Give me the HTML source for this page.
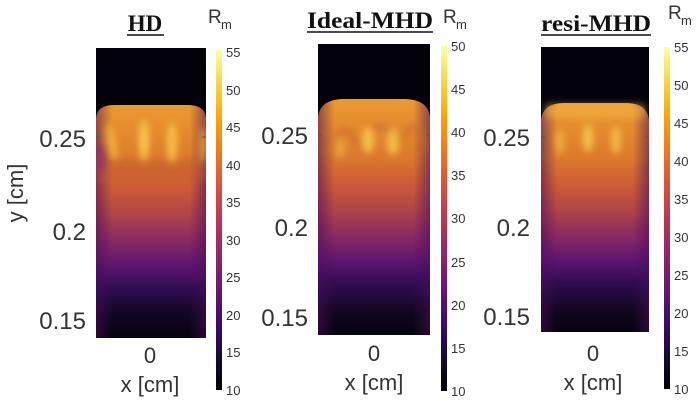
<!DOCTYPE html>
<html><head><meta charset="utf-8"><style>
html,body{margin:0;padding:0;background:#fff;}
svg{display:block;}
.t{font-family:"Liberation Sans",sans-serif;fill:#333;}
.ti{font-family:"Liberation Serif",serif;font-weight:bold;fill:#111;font-size:23px;}
</style></head><body>
<svg width="700" height="401" viewBox="0 0 700 401" xmlns="http://www.w3.org/2000/svg">
<defs>
<linearGradient id="inf" x1="0" y1="1" x2="0" y2="0">
<stop offset="0" stop-color="#000004"/><stop offset="0.1" stop-color="#160b39"/>
<stop offset="0.2" stop-color="#420a68"/><stop offset="0.3" stop-color="#6a176e"/>
<stop offset="0.4" stop-color="#932667"/><stop offset="0.5" stop-color="#bc3754"/>
<stop offset="0.6" stop-color="#dd513a"/><stop offset="0.7" stop-color="#f37819"/>
<stop offset="0.8" stop-color="#fca50a"/><stop offset="0.9" stop-color="#f6d746"/>
<stop offset="1" stop-color="#fcffa4"/>
</linearGradient>
<linearGradient id="body" x1="0" y1="0" x2="0" y2="1">
<stop offset="0" stop-color="#eb9a35"/><stop offset="0.06" stop-color="#e8922f"/>
<stop offset="0.24" stop-color="#dc7a2c"/><stop offset="0.36" stop-color="#cc5c36"/>
<stop offset="0.47" stop-color="#b04448"/><stop offset="0.58" stop-color="#8a2a62"/>
<stop offset="0.69" stop-color="#5c1670"/><stop offset="0.79" stop-color="#2e0c50"/>
<stop offset="0.9" stop-color="#120620"/><stop offset="1" stop-color="#050310"/>
</linearGradient>
<linearGradient id="edge" x1="0" y1="0" x2="1" y2="0">
<stop offset="0" stop-color="#4a0c5a" stop-opacity="0.55"/><stop offset="0.15" stop-color="#4a0c5a" stop-opacity="0"/>
<stop offset="0.85" stop-color="#4a0c5a" stop-opacity="0"/><stop offset="1" stop-color="#4a0c5a" stop-opacity="0.55"/>
</linearGradient>
<filter id="b3" x="-50%" y="-50%" width="200%" height="200%"><feGaussianBlur stdDeviation="3.5"/></filter>
<clipPath id="c1"><rect x="96" y="48" width="110" height="290"/></clipPath>
<clipPath id="c2"><rect x="318" y="44" width="112" height="291"/></clipPath>
<clipPath id="c3"><rect x="541" y="47" width="108" height="285"/></clipPath>
</defs>

<!-- Panel 1 -->
<g clip-path="url(#c1)">
<rect x="96" y="48" width="110" height="290" fill="#03020a"/>
<path d="M96,338 L96,120 Q96,105 114,105 L188,105 Q206,105 206,120 L206,338 Z" fill="url(#body)"/>
<path d="M96,338 L96,120 Q96,105 114,105 L188,105 Q206,105 206,120 L206,338 Z" fill="url(#edge)"/>
<g filter="url(#b3)">
<rect x="98" y="158" width="108" height="22" fill="#c2582f" opacity="0.45"/>
<ellipse cx="112" cy="142" rx="4" ry="18" fill="#f2b040" transform="rotate(-12 112 142)"/>
<ellipse cx="144" cy="140" rx="5" ry="20" fill="#f7c84a"/>
<ellipse cx="172" cy="142" rx="5" ry="20" fill="#f4bf45"/>
<ellipse cx="203" cy="145" rx="3" ry="18" fill="#eea23a"/>
<ellipse cx="99" cy="160" rx="7" ry="16" fill="#8a3068" opacity="0.7"/>
</g>
</g>
<line x1="96" y1="137" x2="100" y2="137" stroke="#555"/><line x1="202" y1="137" x2="206" y2="137" stroke="#555"/>
<rect x="216" y="50" width="6" height="340" fill="url(#inf)"/>

<!-- Panel 2 -->
<g clip-path="url(#c2)">
<rect x="318" y="44" width="112" height="291" fill="#03020a"/>
<path d="M318,335 L318,117 Q320,100 342,99 L406,99 Q428,100 430,117 L430,335 Z" fill="url(#body)"/>
<path d="M318,335 L318,117 Q320,100 342,99 L406,99 Q428,100 430,117 L430,335 Z" fill="url(#edge)"/>
<g filter="url(#b3)">
<path d="M330,155 Q340,120 352,135 Q362,155 372,130 Q382,120 390,135 Q398,150 408,128 Q418,120 425,150" stroke="#c8682e" stroke-width="5" fill="none" opacity="0.7"/>
<ellipse cx="368" cy="140" rx="6" ry="13" fill="#f5c04a"/>
<ellipse cx="393" cy="142" rx="6" ry="13" fill="#f3bb45"/>
<ellipse cx="340" cy="148" rx="5" ry="10" fill="#eba23a"/>
</g>
</g>
<line x1="318" y1="135" x2="322" y2="135" stroke="#555"/><line x1="426" y1="135" x2="430" y2="135" stroke="#555"/>
<rect x="441" y="46" width="6" height="345" fill="url(#inf)"/>

<!-- Panel 3 -->
<g clip-path="url(#c3)">
<rect x="541" y="47" width="108" height="285" fill="#03020a"/>
<path d="M541,332 L541,120 Q543,103 564,103 L626,103 Q647,103 649,120 L649,332 Z" fill="url(#body)"/>
<path d="M541,332 L541,120 Q543,103 564,103 L626,103 Q647,103 649,120 L649,332 Z" fill="url(#edge)"/>
<g filter="url(#b3)">
<rect x="545" y="104" width="100" height="14" fill="#f2b548" opacity="0.5"/>
<ellipse cx="560" cy="142" rx="4" ry="12" fill="#f0ae40"/>
<ellipse cx="588" cy="138" rx="5" ry="14" fill="#f5c24a"/>
<ellipse cx="616" cy="140" rx="5" ry="14" fill="#f2b845"/>
</g>
</g>
<line x1="541" y1="137" x2="545" y2="137" stroke="#555"/><line x1="645" y1="137" x2="649" y2="137" stroke="#555"/>
<rect x="664" y="47" width="6" height="342" fill="url(#inf)"/>

<!-- Titles -->
<text class="ti" x="145" y="31" text-anchor="middle">HD</text>
<line x1="127" y1="35" x2="164" y2="35" stroke="#111" stroke-width="1.5"/>
<text class="ti" x="370" y="28" text-anchor="middle" textLength="126" lengthAdjust="spacingAndGlyphs">Ideal-MHD</text>
<line x1="307" y1="32" x2="433" y2="32" stroke="#111" stroke-width="1.5"/>
<text class="ti" x="596" y="31" text-anchor="middle" textLength="110" lengthAdjust="spacingAndGlyphs">resi-MHD</text>
<line x1="541" y1="35" x2="651" y2="35" stroke="#111" stroke-width="1.5"/>

<g class="t" font-size="19">
<text x="208" y="23">R</text><text x="221" y="29" font-size="13">m</text>
<text x="443" y="23">R</text><text x="456" y="29" font-size="13">m</text>
<text x="668" y="19">R</text><text x="681" y="25" font-size="13">m</text>
</g>

<!-- colorbar ticks -->
<g class="t" font-size="13">
<text x="226" y="57">55</text><text x="226" y="95">50</text><text x="226" y="132">45</text><text x="226" y="170">40</text><text x="226" y="207">35</text><text x="226" y="245">30</text><text x="226" y="282">25</text><text x="226" y="320">20</text><text x="226" y="357">15</text><text x="226" y="395">10</text>
<text x="451" y="51">50</text><text x="451" y="94">45</text><text x="451" y="137">40</text><text x="451" y="180">35</text><text x="451" y="223">30</text><text x="451" y="267">25</text><text x="451" y="310">20</text><text x="451" y="353">15</text><text x="451" y="396">10</text>
<text x="674" y="52">55</text><text x="674" y="90">50</text><text x="674" y="128">45</text><text x="674" y="166">40</text><text x="674" y="204">35</text><text x="674" y="242">30</text><text x="674" y="280">25</text><text x="674" y="318">20</text><text x="674" y="356">15</text><text x="674" y="394">10</text>
</g>

<!-- axis ticks -->
<g class="t" font-size="24" text-anchor="end">
<text x="86" y="147">0.25</text><text x="86" y="240">0.2</text><text x="86" y="329">0.15</text>
<text x="308" y="144">0.25</text><text x="308" y="236">0.2</text><text x="308" y="326">0.15</text>
<text x="530" y="146">0.25</text><text x="530" y="236">0.2</text><text x="530" y="325">0.15</text>
</g>
<g class="t" font-size="22" text-anchor="middle">
<text x="150" y="363">0</text><text x="150" y="392">x [cm]</text>
<text x="374" y="361">0</text><text x="374" y="390">x [cm]</text>
<text x="593" y="361">0</text><text x="593" y="390">x [cm]</text>
<text x="0" y="0" transform="translate(23,193) rotate(-90)">y [cm]</text>
</g>
</svg>
</body></html>
